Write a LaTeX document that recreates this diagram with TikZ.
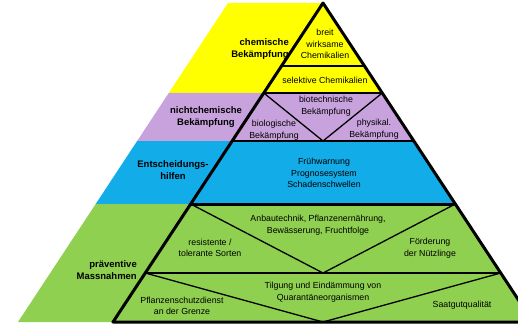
\documentclass[tikz,border=0pt]{standalone}
\usepackage{fontspec}
\setmainfont{Liberation Sans}
\usetikzlibrary{calc}
\definecolor{cyel}{RGB}{255,255,0}
\definecolor{cpur}{RGB}{200,162,220}
\definecolor{cblu}{RGB}{18,172,232}
\definecolor{cgrn}{RGB}{143,208,80}
\begin{document}
\begin{tikzpicture}[x=1pt,y=-1pt,
  lbl/.style={font=\fontsize{9.5}{11.5}\selectfont\bfseries, inner sep=0pt},
  txt/.style={font=\fontsize{8.8}{11.5}\selectfont, align=center, inner sep=0pt},
  outer/.style={line width=3pt, line join=round},
  mid/.style={line width=1.8pt},
  thin/.style={line width=1.3pt}]
\path[use as bounding box] (0,0) rectangle (518,327);
\clip (0,0) rectangle (518,327);
\coordinate (A) at (323,3);
\coordinate (BL) at (113,322);
\coordinate (BR) at (533,322);
\foreach \n/\t in {1/0.1975,2/0.2821,3/0.4326,4/0.6301,5/0.8464}{
  \coordinate (L\n) at ($(A)!\t!(BL)$);
  \coordinate (R\n) at ($(A)!\t!(BR)$);
  \coordinate (B\n) at ($(L\n)+(-95,0)$);
}
\coordinate (B0) at ($(A)+(-95,0)$);
\coordinate (B6) at ($(BL)+(-95,0)$);
\coordinate (M3) at ($(L3)!0.5!(R3)$);
\coordinate (M5) at ($(L5)!0.5!(R5)$);
\coordinate (M6) at ($(BL)!0.5!(BR)$);
% bands
\fill[cyel] (B0) -- (A) -- (R2) -- (B2) -- cycle;
\fill[cpur] (B2) -- (R2) -- (R3) -- (B3) -- cycle;
\fill[cblu] (B3) -- (R3) -- (R4) -- (B4) -- cycle;
\fill[cgrn] (B4) -- (R4) -- (BR) -- (B6) -- cycle;
% inner lines
\draw[thin] (L1) -- (R1);
\draw[mid] (L2) -- (R2);
\draw[thin] (L2) -- (M3) -- (R2);
\draw[thin] (L3) -- (R3);
\draw[outer] (L4) -- (R4);
\draw[thin] (L4) -- (M5) -- (R4);
\draw[mid] (L5) -- (R5);
\draw[thin] (L5) -- (M6) -- (R5);
% triangle
\draw[outer] (BR) -- (A) -- (BL) -- cycle;
% labels
\node[lbl, align=right, anchor=east] (l1) at (289,49) {chemische\\Bekämpfung};
\node[lbl, align=center] (l2) at (206,117) {nichtchemische\\Bekämpfung};
\node[lbl, align=center] (l3) at (173,170) {Entscheidungs-\\hilfen};
\node[lbl, align=right, anchor=east] (l4) at (137,270) {präventive\\Massnahmen};
% inner texts
\node[txt] (t1) at (325,44) {breit\\wirksame\\Chemikalien};
\node[txt] (t2) at (325,80) {selektive Chemikalien};
\node[txt] (t3) at (326,106) {biotechnische\\Bekämpfung};
\node[txt] (t4) at (274,130) {biologische\\Bekämpfung};
\node[txt] (t5) at (374,129) {physikal.\\Bekämpfung};
\node[txt] (t6) at (324,173) {Frühwarnung\\Prognosesystem\\Schadenschwellen};
\node[txt] (t7) at (318,225) {Anbautechnik, Pflanzenernährung,\\Bewässerung, Fruchtfolge};
\node[txt] (t8) at (210,248) {resistente /\\tolerante Sorten};
\node[txt] (t9) at (430,248) {Förderung\\der Nützlinge};
\node[txt] (t10) at (323,292) {Tilgung und Eindämmung von\\Quarantäneorganismen};
\node[txt] (t11) at (182,306) {Pflanzenschutzdienst\\an der Grenze};
\node[txt] (t12) at (462,305) {Saatgutqualität};
\end{tikzpicture}
\end{document}
